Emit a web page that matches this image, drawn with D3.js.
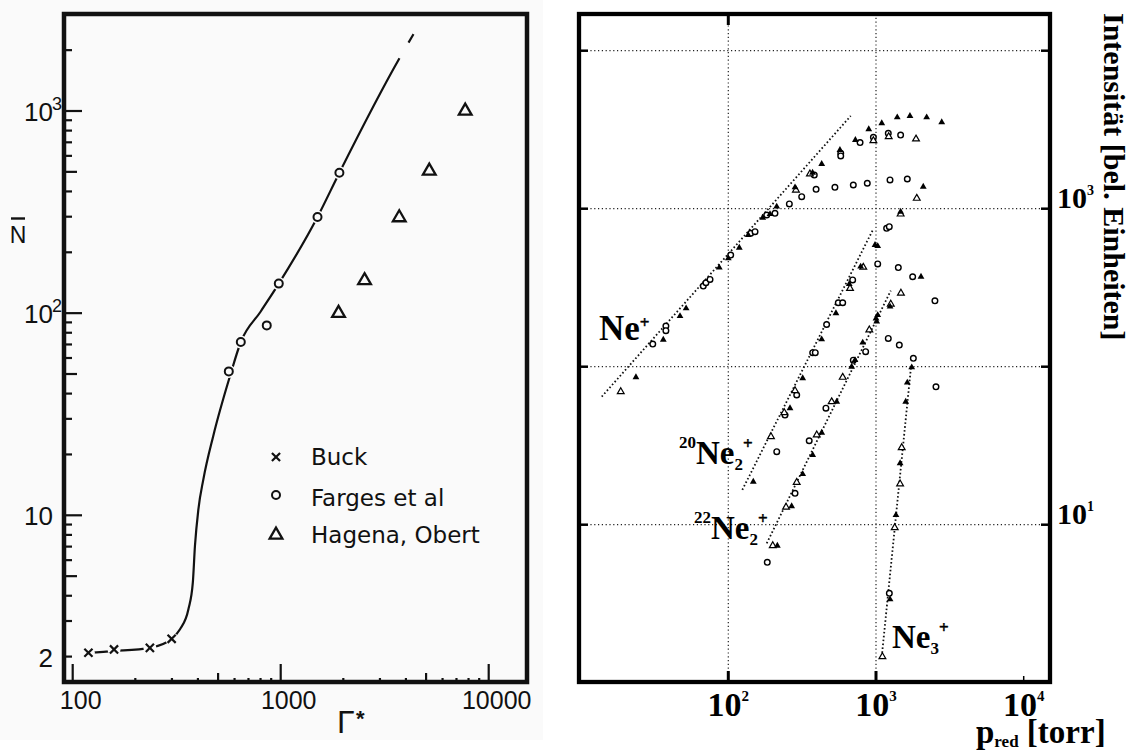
<!DOCTYPE html>
<html>
<head>
<meta charset="utf-8">
<script src="https://cdn.jsdelivr.net/npm/d3@7"></script>
<style>
  body { margin: 0; background: #fff; }
  svg { display: block; }
</style>
</head>
<body>
<div id="chart"></div>
<script>
// ---------- left panel: N-bar vs Gamma* ----------
const buckG = [119, 158, 235, 299];
const buckN = [2.09, 2.17, 2.21, 2.45];
const fargesG = [563, 643, 857, 979, 1503, 1915];
const fargesN = [51.5, 72, 87, 140, 299, 495];
const hagenaG = [1897, 2530, 3715, 5180, 7710];
const hagenaN = [100, 145, 297, 505, 1000];
// hand drawn fit curve through the points
const curveG = [119, 158, 235, 299, 328, 360, 378, 387, 402, 425, 474, 571, 643, 800, 979, 1503, 1915, 3724, 4350];
const curveN = [2.09, 2.13, 2.21, 2.45, 2.73, 3.43, 4.64, 7.05, 10.7, 15.1, 24.7, 49, 72, 101.6, 140, 299, 495, 1824, 2400];
const legendNames = ["Buck", "Farges et al", "Hagena, Obert"];
const leftXTicks = [100, 1000, 10000];
const leftXTickText = ["100", "1000", "10000"];
const leftYTicks = [2, 10, 100, 1000];
const leftYTickBase = ["2", "10", "10", "10"];
const leftYTickSup = ["", "", "2", "3"];

// ---------- right panel: intensity vs p_red ----------
// [p_red (torr), intensity]
const neCircle = [[30.8,139],[37.8,181],[37.8,169],[67.7,324],[70.6,340],[75.2,357],[103.8,509],[141.8,698],[151.7,715],[182,912],[207,935],[259,1072],[314,1191],[382,1633],[577,2243],[577,2158],[780,2620],[960,2831],[1211,2998],[1468,2925],[393,1327],[527,1365],[702,1413],[873,1449],[1244,1520],[1629,1542]];
const neFilled = [[23.7,85.7],[36.3,148],[47.1,209],[51.8,234],[86.9,424],[100,485],[118.7,566],[136.5,682],[171,877],[191.6,925],[212.6,1031],[283,1365],[372,1690],[429,1919],[570,2355],[725,2723],[893,3185],[1094,3475],[1393,3785],[1698,3864],[2203,3785],[2786,3524]];
const neOpen = [[18.7,69.5],[287,1312],[357,1660],[960,2693],[1219,2857],[1866,2761]];

const ne20Circle = [[212.8,29.0],[242,49.4],[290.5,66.2],[372.6,122.7],[388,122.7],[463,185],[555.5,254],[595,254],[695,354],[1027,447],[1180,751],[1230,769],[1416,424],[1771,371],[2506,261]];
const ne20Filled = [[147.6,18.7],[261.6,54.6],[319,84.5],[428.8,149],[535.6,217.8],[659,333],[787,430],[985,589],[1027,580],[1468,957],[2017,371],[2089,1377]];
const ne20Open = [[194.5,36.1],[239.3,51.2],[283,70.5],[667,313],[820,426],[1468,925],[1888,1164]];

const ne22Circle = [[183.6,5.78],[283,15.8],[353,34.0],[458,54.6],[702,110],[851,124.5],[1211,151],[1438,137],[1790,113],[2547,74.6]];
const ne22Filled = [[214.8,7.36],[268.5,13.1],[319,20.9],[372.6,27.6],[429,38.2],[542,60],[684,100],[721,110],[813,142],[1011,193],[1000,202],[1027,212],[1245,240]];
const ne22Open = [[200,7.36],[246,12.9],[290.5,18.5],[397,37.0],[501,60],[595,85.7],[901,171],[1259,249],[1475,292]];

const ne3Circle = [[1231,3.68]];
const ne3Filled = [[1245,3.37],[1365,11.5],[1456,24.5],[1589,60],[1629,79.3],[1745,99]];
const ne3Open = [[1105,1.46],[1339,9.57],[1456,18.1],[1493,30.7]];

// dotted fit lines
const neFit = [[13.9,64.6],[674,3864]];
const ne20Fit = [[124.4,16.6],[951,733]];
const ne22Fit = [[182,7.62],[1259,303]];
const ne3Fit = [[1094,1.46],[1726,99.6]];

const rightXTicks = [100, 1000, 10000];
const rightXSup = ["2", "3", "4"];
const rightYGrid = [10, 100, 1000, 10000];
const rightYLabels = [10, 1000];
const rightYSup = ["1", "3"];

const svg = d3.select("#chart").append("svg")
  .attr("width", 1132).attr("height", 752);

// ================= LEFT =================
const LF = { x0: 64, x1: 527, y0: 14, y1: 682 };
const xL = d3.scaleLog().domain([100, 10000]).range([72.7, 488.7]);
const yL = d3.scaleLog().domain([10, 1000]).range([515.3, 111]);
const sans = "'Liberation Sans', Arial, sans-serif";

svg.append("rect").attr("x", 0).attr("y", 0).attr("width", 543).attr("height", 740).attr("fill", "#fafafa");

const gl = svg.append("g");

// minor / major ticks
function logTicks(lo, hi) {
  var out = [];
  for (var k = 0; k <= 4; k++) {
    for (var m = 1; m <= 9; m++) {
      var v = m * Math.pow(10, k);
      if (v >= lo && v <= hi) out.push({ v: v, m: m });
    }
  }
  return out;
}
const xtL = logTicks(xL.invert(LF.x0 + 3), xL.invert(LF.x1 - 3));
gl.selectAll(".xt").data(xtL).enter().append("line")
  .attr("x1", d => xL(d.v)).attr("x2", d => xL(d.v))
  .attr("y1", LF.y1).attr("y2", d => LF.y1 - (d.m == 1 ? 18 : d.m == 5 ? 9 : 4))
  .attr("stroke", "#111").attr("stroke-width", 2.2);
const ytL = logTicks(yL.invert(LF.y1 - 3), yL.invert(LF.y0 + 3));
gl.selectAll(".yt").data(ytL).enter().append("line")
  .attr("y1", d => yL(d.v)).attr("y2", d => yL(d.v))
  .attr("x1", LF.x0).attr("x2", d => LF.x0 + (d.m == 1 ? 18 : d.m == 5 ? 13 : 8))
  .attr("stroke", "#111").attr("stroke-width", 2.2);

gl.append("rect").attr("x", LF.x0).attr("y", LF.y0)
  .attr("width", LF.x1 - LF.x0).attr("height", LF.y1 - LF.y0)
  .attr("fill", "none").attr("stroke", "#111").attr("stroke-width", 4.5);

// tick labels
gl.selectAll(".xl").data(leftXTicks).enter().append("text")
  .attr("x", d => xL(d) + 8).attr("y", 709)
  .attr("text-anchor", "middle").attr("font-family", sans).attr("font-size", 25).attr("fill", "#111")
  .text((d, i) => leftXTickText[i]);
leftYTicks.forEach(function (v, i) {
  gl.append("text").attr("x", 53).attr("y", yL(v) + 10)
    .attr("text-anchor", "end").attr("font-family", sans).attr("font-size", 26).attr("fill", "#111")
    .text(leftYTickBase[i]);
  if (leftYTickSup[i]) {
    gl.append("text").attr("x", 52).attr("y", yL(v) - 1)
      .attr("font-family", sans).attr("font-size", 18).attr("fill", "#111")
      .text(leftYTickSup[i]);
  }
});
// axis titles
gl.append("text").attr("x", 337).attr("y", 733).attr("font-family", sans).attr("font-size", 32)
  .attr("fill", "#111").text("Γ");
gl.append("text").attr("x", 356).attr("y", 726).attr("font-family", sans).attr("font-size", 22)
  .attr("font-weight", "bold").attr("fill", "#111").text("*");
gl.append("text").attr("x", 18).attr("y", 243).attr("text-anchor", "middle")
  .attr("font-family", sans).attr("font-size", 23).attr("fill", "#111").text("N");
gl.append("line").attr("x1", 11).attr("x2", 25).attr("y1", 218.5).attr("y2", 218.5)
  .attr("stroke", "#111").attr("stroke-width", 2.4);

// fit curve
const curvePts = curveG.map((g, i) => [g, curveN[i]]);
const lineL = d3.line().x(d => xL(d[0])).y(d => yL(d[1])).curve(d3.curveMonotoneX);
const cpath = gl.append("path").attr("d", lineL(curvePts))
  .attr("fill", "none").attr("stroke", "#111").attr("stroke-width", 2.2);
const clen = cpath.node().getTotalLength();
cpath.attr("stroke-dasharray", (clen - 28) + " 18 10");

// white gaps round markers
const buckPts = buckG.map((g, i) => [g, buckN[i]]);
const fargesPts = fargesG.map((g, i) => [g, fargesN[i]]);
const hagenaPts = hagenaG.map((g, i) => [g, hagenaN[i]]);
gl.selectAll(".halo").data(buckPts.concat(fargesPts)).enter().append("circle")
  .attr("cx", d => xL(d[0])).attr("cy", d => yL(d[1])).attr("r", 6.5).attr("fill", "#fafafa");

const xSym = d3.symbol().type(d3.symbolX).size(45);
const triSym = d3.symbol().type(d3.symbolTriangle).size(70);
gl.selectAll(".bk").data(buckPts).enter().append("path")
  .attr("transform", d => "translate(" + xL(d[0]) + "," + yL(d[1]) + ")")
  .attr("d", xSym()).attr("fill", "none").attr("stroke", "#111").attr("stroke-width", 2.2);
gl.selectAll(".fg").data(fargesPts).enter().append("circle")
  .attr("cx", d => xL(d[0])).attr("cy", d => yL(d[1])).attr("r", 4)
  .attr("fill", "#fafafa").attr("stroke", "#111").attr("stroke-width", 2);
gl.selectAll(".hg").data(hagenaPts).enter().append("path")
  .attr("transform", d => "translate(" + xL(d[0]) + "," + yL(d[1]) + ")")
  .attr("d", triSym()).attr("fill", "none").attr("stroke", "#111").attr("stroke-width", 2.3);

// legend
const legY = [457, 495, 535];
const legBase = [465, 506, 543];
gl.append("path").attr("transform", "translate(276," + legY[0] + ")").attr("d", xSym())
  .attr("fill", "none").attr("stroke", "#111").attr("stroke-width", 2.2);
gl.append("circle").attr("cx", 276).attr("cy", legY[1]).attr("r", 4)
  .attr("fill", "none").attr("stroke", "#111").attr("stroke-width", 2);
gl.append("path").attr("transform", "translate(276," + legY[2] + ")").attr("d", triSym())
  .attr("fill", "none").attr("stroke", "#111").attr("stroke-width", 2.3);
gl.selectAll(".lg").data(legendNames).enter().append("text")
  .attr("x", 311).attr("y", (d, i) => legBase[i])
  .attr("font-family", "'DejaVu Sans', sans-serif").attr("font-size", 23).attr("fill", "#111")
  .text(d => d);

// ================= RIGHT =================
const RF = { x0: 579, x1: 1050, y0: 14, y1: 682 };
const xR = d3.scaleLog().domain([100, 1000]).range([728.3, 876]);
const yR = d3.scaleLog().domain([10, 10000]).range([524.7, 50.7]);
const serif = "'Liberation Serif', 'Times New Roman', serif";
const gr = svg.append("g");

// grid
gr.selectAll(".hg").data(rightYGrid).enter().append("line")
  .attr("x1", RF.x0).attr("x2", RF.x1).attr("y1", d => yR(d)).attr("y2", d => yR(d))
  .attr("stroke", "#222").attr("stroke-width", 1.2).attr("stroke-dasharray", "1.2,2.6");
gr.selectAll(".vg").data(rightXTicks.slice(0, 2)).enter().append("line")
  .attr("y1", RF.y0).attr("y2", RF.y1).attr("x1", d => xR(d)).attr("x2", d => xR(d))
  .attr("stroke", "#222").attr("stroke-width", 1.2).attr("stroke-dasharray", "1.2,2.6");

// ticks
gr.selectAll(".ylt").data(rightYGrid).enter().append("line")
  .attr("x1", RF.x0).attr("x2", RF.x0 + 9).attr("y1", d => yR(d)).attr("y2", d => yR(d))
  .attr("stroke", "#000").attr("stroke-width", 2.5);
gr.selectAll(".yrt").data(rightYGrid).enter().append("line")
  .attr("x1", RF.x1).attr("x2", RF.x1 - 9).attr("y1", d => yR(d)).attr("y2", d => yR(d))
  .attr("stroke", "#000").attr("stroke-width", 2.5);
gr.selectAll(".xbt").data(rightXTicks).enter().append("line")
  .attr("x1", d => xR(d)).attr("x2", d => xR(d)).attr("y1", RF.y1).attr("y2", (d, i) => RF.y1 - (i < 2 ? 11 : 6))
  .attr("stroke", "#000").attr("stroke-width", (d, i) => i < 2 ? 3 : 1.5);
gr.append("line").attr("x1", xR(100)).attr("x2", xR(100)).attr("y1", RF.y0).attr("y2", RF.y0 + 11)
  .attr("stroke", "#000").attr("stroke-width", 3);

gr.append("rect").attr("x", RF.x0).attr("y", RF.y0)
  .attr("width", RF.x1 - RF.x0).attr("height", RF.y1 - RF.y0)
  .attr("fill", "none").attr("stroke", "#000").attr("stroke-width", 4.3);

// tick labels
const xlab = gr.selectAll(".xrl").data(rightXTicks).enter().append("text")
  .attr("x", d => xR(d)).attr("y", 716).attr("text-anchor", "middle")
  .attr("font-family", serif).attr("font-weight", "bold").attr("font-size", 34).attr("fill", "#000");
xlab.append("tspan").text("10");
xlab.append("tspan").attr("font-size", 15).attr("dy", -15).text((d, i) => rightXSup[i]);
const ylab = gr.selectAll(".yrl").data(rightYLabels).enter().append("text")
  .attr("x", 1057).attr("y", d => yR(d) - 1)
  .attr("font-family", serif).attr("font-weight", "bold").attr("font-size", 30).attr("fill", "#000");
ylab.append("tspan").text("10");
ylab.append("tspan").attr("font-size", 14).attr("dy", -13).text((d, i) => rightYSup[i]);

// axis titles
const xt = gr.append("text").attr("x", 976).attr("y", 743)
  .attr("font-family", serif).attr("font-weight", "bold").attr("font-size", 33).attr("fill", "#000");
xt.append("tspan").text("p");
xt.append("tspan").attr("font-size", 17).attr("dy", 4).text("red");
xt.append("tspan").attr("dy", -4).text(" [torr]");
gr.append("text").attr("transform", "translate(1104,13) rotate(90)")
  .attr("font-family", serif).attr("font-weight", "bold").attr("font-size", 30).attr("fill", "#000")
  .text("Intensität [bel. Einheiten]");

// fit lines
const lineR = d3.line().x(d => xR(d[0])).y(d => yR(d[1]));
[neFit, ne20Fit, ne22Fit, ne3Fit].forEach(function (f) {
  gr.append("path").attr("d", lineR(f)).attr("fill", "none")
    .attr("stroke", "#111").attr("stroke-width", 1.8).attr("stroke-dasharray", "1.6,2.3");
});

// markers
const fTri = d3.symbol().type(d3.symbolTriangle).size(20);
const oTri = d3.symbol().type(d3.symbolTriangle).size(20);
function drawCircles(data) {
  gr.selectAll(null).data(data).enter().append("circle")
    .attr("cx", d => xR(d[0])).attr("cy", d => yR(d[1])).attr("r", 2.8)
    .attr("fill", "#fff").attr("stroke", "#000").attr("stroke-width", 1.4);
}
function drawFilled(data) {
  gr.selectAll(null).data(data).enter().append("path")
    .attr("transform", d => "translate(" + xR(d[0]) + "," + yR(d[1]) + ")")
    .attr("d", fTri()).attr("fill", "#000");
}
function drawOpen(data) {
  gr.selectAll(null).data(data).enter().append("path")
    .attr("transform", d => "translate(" + xR(d[0]) + "," + yR(d[1]) + ")")
    .attr("d", oTri()).attr("fill", "#fff").attr("stroke", "#000").attr("stroke-width", 1.2);
}
[neCircle, ne20Circle, ne22Circle, ne3Circle].forEach(drawCircles);
[neOpen, ne20Open, ne22Open, ne3Open].forEach(drawOpen);
[neFilled, ne20Filled, ne22Filled, ne3Filled].forEach(drawFilled);

// species labels
function ionLabel(x, y, pre, sub, size) {
  const t = gr.append("text").attr("x", x).attr("y", y)
    .attr("font-family", serif).attr("font-weight", "bold").attr("font-size", size).attr("fill", "#000");
  if (pre) t.append("tspan").attr("font-size", 17).attr("dy", -16).text(pre);
  t.append("tspan").attr("dy", pre ? 16 : 0).text("Ne");
  if (sub) t.append("tspan").attr("font-size", 17).attr("dy", 6).text(sub);
  t.append("tspan").attr("font-size", 17).attr("dy", sub ? -21 : -12)
    .attr("stroke", "#000").attr("stroke-width", 0.4).text("+");
}
ionLabel(599, 340, "", "", 35);
ionLabel(679, 464, "20", "2", 33);
ionLabel(694, 539, "22", "2", 33);
ionLabel(892, 648, "", "3", 33);
</script>
</body>
</html>
